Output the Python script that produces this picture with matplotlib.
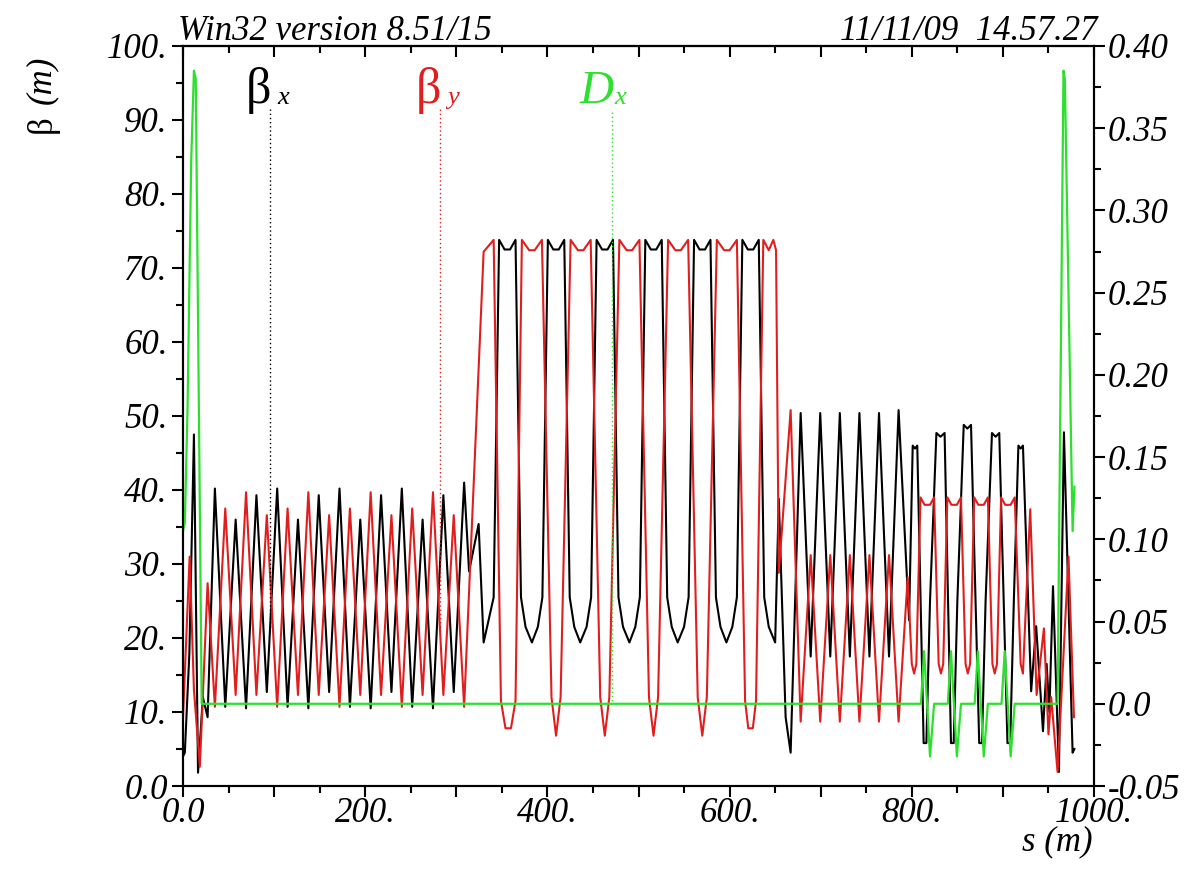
import numpy as np
import matplotlib
matplotlib.use("Agg")
from matplotlib import pyplot as plt

# beta_x (m) along s (m), vertices
betx_s = [0, 2, 7, 12, 16.5, 21.8, 27,
          35, 46.4, 57.8, 69.2, 80.6, 92, 103.4, 114.8, 126.2, 137.6, 149, 160.4,
          171.8, 183.2, 194.6, 206, 217.4, 228.8, 240.2, 251.6, 263, 274.4, 285.8,
          297.2, 308.6,
          314, 324.5, 330, 341,
          347, 353, 359, 365, 371, 376, 383, 389.5, 394.5,
          400.5, 406.5, 412.5, 418.5, 424.5, 429.5, 436, 443, 448,
          454, 460, 466, 472, 478, 483, 490, 496.5, 501.5,
          507.5, 513.5, 519.5, 525.5, 531.5, 536.5, 543, 550, 555,
          561, 567, 573, 579, 585, 590, 596.5, 603, 608,
          614, 620, 626, 632, 638, 643, 650,
          654, 661.5, 667,
          678, 689, 699.5, 710.5, 721, 732, 742.5, 753.5, 764, 775, 785.5,
          797, 801, 803.5, 806, 813, 816, 820,
          827, 831.5, 836, 843, 846, 850,
          857, 861, 865, 874, 877, 881,
          888, 892, 896, 905, 908, 912,
          917, 919.5, 922,
          931, 936.5, 944, 948, 951, 955, 961.5, 967, 976.5, 978.5]
betx_v = [4.0, 4.5, 18.0, 47.5, 1.8, 12.0, 9.3,
          40.2, 10.7, 36.0, 10.5, 39.3, 12.7, 40.2, 10.7, 36.0, 10.5, 39.3, 12.7,
          40.2, 10.7, 36.0, 10.5, 39.3, 12.7, 40.2, 10.7, 36.0, 10.5, 39.3,
          12.7, 41.0,
          29.0, 35.4, 19.4, 25.5,
          73.8, 72.5, 72.5, 73.8, 25.5, 21.5, 19.4, 21.5, 25.5,
          73.8, 72.5, 72.5, 73.8, 25.5, 21.5, 19.4, 21.5, 25.5,
          73.8, 72.5, 72.5, 73.8, 25.5, 21.5, 19.4, 21.5, 25.5,
          73.8, 72.5, 72.5, 73.8, 25.5, 21.5, 19.4, 21.5, 25.5,
          73.8, 72.5, 72.5, 73.8, 25.5, 21.5, 19.4, 21.5, 25.5,
          73.8, 72.5, 72.5, 73.8, 25.5, 21.5, 19.4,
          38.8, 9.3, 4.5,
          50.4, 17.5, 50.4, 17.5, 50.4, 17.5, 50.4, 17.5, 50.4, 17.5, 50.8,
          22.4, 46.0, 45.6, 46.0, 5.8, 5.8, 25.0,
          47.7, 47.2, 47.7, 5.8, 5.8, 25.0,
          48.8, 48.3, 48.8, 5.8, 5.8, 25.0,
          47.7, 47.2, 47.7, 5.8, 5.8, 25.0,
          46.0, 45.6, 46.0,
          12.8, 21.6, 7.4, 16.5, 10.0, 27.0, 1.9, 47.8, 4.5, 5.0]

# beta_y (m)
bety_s = [0, 7.3, 12, 18.5, 27,
          35, 46.4, 57.8, 69.2, 80.6, 92, 103.4, 114.8, 126.2, 137.6, 149, 160.4,
          171.8, 183.2, 194.6, 206, 217.4, 228.8, 240.2, 251.6, 263, 274.4, 285.8,
          297.2, 308.6,
          330, 341,
          349, 354, 360, 365,
          372, 380, 386, 394, 404.5, 409.5, 414.5,
          425.5, 433.5, 439.5, 447.5, 458, 463, 468,
          479, 487, 493, 501, 511.5, 516.5, 521.5,
          532.5, 540.5, 546.5, 554.5, 565, 570, 575,
          586, 594, 600, 608, 617, 620.5, 625.5, 629,
          637, 643, 648, 651, 654,
          667, 678, 689, 699.5, 710.5, 721, 732, 742.5, 753.5, 764, 775, 785.5,
          795.5, 800, 802.5, 805,
          809.5, 814, 820, 824.5, 829.5, 832, 834.5,
          839, 843.5, 849.5, 854, 859, 861.5, 864,
          868.5, 873, 879, 883.5, 888.5, 891, 893.5,
          898, 902.5, 908.5, 913, 919.5, 922,
          930, 937, 945, 950, 953, 960, 972, 978]
bety_v = [9.3, 31.0, 13.0, 2.6, 27.4,
          10.7, 37.5, 12.3, 39.7, 12.3, 36.6, 10.7, 37.5, 12.3, 39.7, 12.3, 36.6,
          10.7, 37.5, 12.3, 39.7, 12.3, 36.6, 10.7, 37.5, 12.3, 39.7, 12.3,
          36.6, 10.7,
          72.2, 73.8,
          11.5, 7.8, 7.8, 11.5,
          73.8, 72.4, 72.4, 73.8, 12.0, 6.8, 12.0,
          73.8, 72.4, 72.4, 73.8, 12.0, 6.8, 12.0,
          73.8, 72.4, 72.4, 73.8, 12.0, 6.8, 12.0,
          73.8, 72.4, 72.4, 73.8, 12.0, 6.8, 12.0,
          73.8, 72.4, 72.4, 73.8, 11.5, 7.8, 7.8, 11.5,
          73.8, 72.4, 73.8, 72.4, 28.8,
          50.8, 8.7, 31.2, 8.7, 31.2, 8.7, 31.2, 8.7, 31.2, 8.7, 31.2, 8.7,
          28.2, 16.5, 15.2, 16.5,
          39.0, 38.0, 38.0, 39.0, 16.5, 15.2, 16.5,
          39.0, 38.0, 38.0, 39.0, 16.5, 15.2, 16.5,
          39.0, 38.0, 38.0, 39.0, 16.5, 15.2, 16.5,
          39.0, 38.0, 38.0, 39.0, 16.5, 15.2,
          37.4, 12.3, 21.3, 7.0, 12.0, 1.9, 31.0, 9.3]

# horizontal dispersion D_x (m), right axis
dx_s = [0, 2, 5, 9, 12, 14, 20.5,
        810, 813.5, 820, 824.5, 839.5, 843, 849.5, 854,
        869, 872.5, 879, 883.5, 898.5, 902, 908.5, 913,
        960, 966.5, 968, 976.5, 978.5]
dx_v = [0.105, 0.11, 0.18, 0.33, 0.385, 0.38, 0.0,
        0.0, 0.032, -0.032, 0.0, 0.0, 0.032, -0.032, 0.0,
        0.0, 0.032, -0.032, 0.0, 0.0, 0.032, -0.032, 0.0,
        0.0, 0.385, 0.38, 0.105, 0.132]

s_ticks = [0, 100, 200, 300, 400, 500, 600, 700, 800, 900, 1000]
s_labels = ["0.0", "", "200.", "", "400.", "", "600.", "", "800.", "", "1000."]
beta_ticks = [0, 10, 20, 30, 40, 50, 60, 70, 80, 90, 100]
beta_labels = ["0.0", "10.", "20.", "30.", "40.", "50.", "60.", "70.", "80.", "90.", "100."]
dx_ticks = [-0.05, 0.0, 0.05, 0.10, 0.15, 0.20, 0.25, 0.30, 0.35, 0.40]
dx_labels = ["-0.05", "0.0", "0.05", "0.10", "0.15", "0.20", "0.25", "0.30", "0.35", "0.40"]

# where the curve labels sit
lab_s = {"betx": 95.6, "bety": 282.4, "dx": 471.0}

RED = "#e01e1e"
GREEN = "#2ee02e"
W, H = 1192, 872

plt.rcParams["font.family"] = ["Liberation Serif", "DejaVu Serif"]
plt.rcParams["font.style"] = "italic"
FS = 25

fig = plt.figure(figsize=(W / 100, H / 100), dpi=100)
ax = fig.add_axes([183 / W, 1 - 786 / H, (1094 - 183) / W, (786 - 46) / H])
ax.plot(betx_s, betx_v, color="black", lw=1.5)
ax.plot(bety_s, bety_v, color=RED, lw=1.5)
ax.set_xlim(0, 1000)
ax.set_ylim(0, 100)

ax2 = ax.twinx()
ax2.plot(dx_s, dx_v, color=GREEN, lw=1.6)
ax2.set_ylim(-0.05, 0.40)

# dotted leaders from the labels down to the curves
ytop = 91.5
xs = lab_s["betx"]
ax.plot([xs, xs], [ytop, np.interp(xs, betx_s, betx_v)], color="black", lw=1, ls=(0, (1, 2)))
xs = lab_s["bety"]
ax.plot([xs, xs], [ytop, np.interp(xs, bety_s, bety_v)], color=RED, lw=1, ls=(0, (1, 2)))
xs = lab_s["dx"]
ax2.plot([xs, xs], [0.36, np.interp(xs, dx_s, dx_v)], color=GREEN, lw=1, ls=(0, (1, 2)))

# ticks
ax.set_xticks(s_ticks, labels=s_labels, fontsize=FS)
ax.set_xticks(np.arange(0, 1001, 50), minor=True)
ax.set_yticks(beta_ticks, labels=beta_labels, fontsize=FS)
ax.set_yticks(np.arange(0, 101, 5), minor=True)
ax2.set_yticks(dx_ticks, labels=dx_labels, fontsize=FS)
ax2.set_yticks(np.arange(-0.05, 0.401, 0.025), minor=True)
ax.tick_params(axis="x", which="major", direction="out", length=8, width=1.5, pad=0)
ax.tick_params(axis="x", which="minor", direction="out", length=5, width=1.5)
ax.tick_params(axis="y", which="major", direction="out", length=8, width=1.5, pad=3)
ax.tick_params(axis="y", which="minor", direction="out", length=5, width=1.5)
ax2.tick_params(axis="y", which="major", direction="out", length=8, width=1.5, pad=2)
ax2.tick_params(axis="y", which="minor", direction="out", length=5, width=1.5)

top = ax.secondary_xaxis("top")
top.set_xticks(s_ticks, labels=[""] * len(s_ticks))
top.set_xticks(np.arange(0, 1001, 50), minor=True)
top.tick_params(which="major", direction="in", length=8, width=1.5)
top.tick_params(which="minor", direction="in", length=5, width=1.5)

for a in (ax, ax2, top):
    for sp in a.spines.values():
        sp.set_linewidth(1.5)

# curve labels
def fx(px):
    return px / W

def fy(py):
    return 1 - py / H

fig.text(fx(271), fy(103), "\u03b2", fontsize=36, style="normal", ha="right", va="baseline", color="black")
fig.text(fx(277), fy(104), "x", fontsize=19, ha="left", va="baseline", color="black")
fig.text(fx(441), fy(103), "\u03b2", fontsize=36, style="normal", ha="right", va="baseline", color=RED)
fig.text(fx(447), fy(104), "y", fontsize=19, ha="left", va="baseline", color=RED)
fig.text(fx(614), fy(103), "D", fontsize=34, ha="right", va="baseline", color=GREEN)
fig.text(fx(614), fy(104), "x", fontsize=19, ha="left", va="baseline", color=GREEN)

# header and axis titles
fig.text(fx(178), fy(40), "Win32 version 8.51/15", fontsize=FS, ha="left", va="baseline")
fig.text(fx(1097), fy(40), "11/11/09  14.57.27", fontsize=FS, ha="right", va="baseline")
fig.text(fx(42), fy(124), "\u03b2", fontsize=FS, style="normal", rotation=90, ha="center", va="center")
fig.text(fx(42), fy(80), "(m)", fontsize=FS, rotation=90, ha="center", va="center")
fig.text(fx(1093), fy(842), "s (m)", fontsize=FS, ha="right", va="center")

fig.savefig("out.png", dpi=100)
